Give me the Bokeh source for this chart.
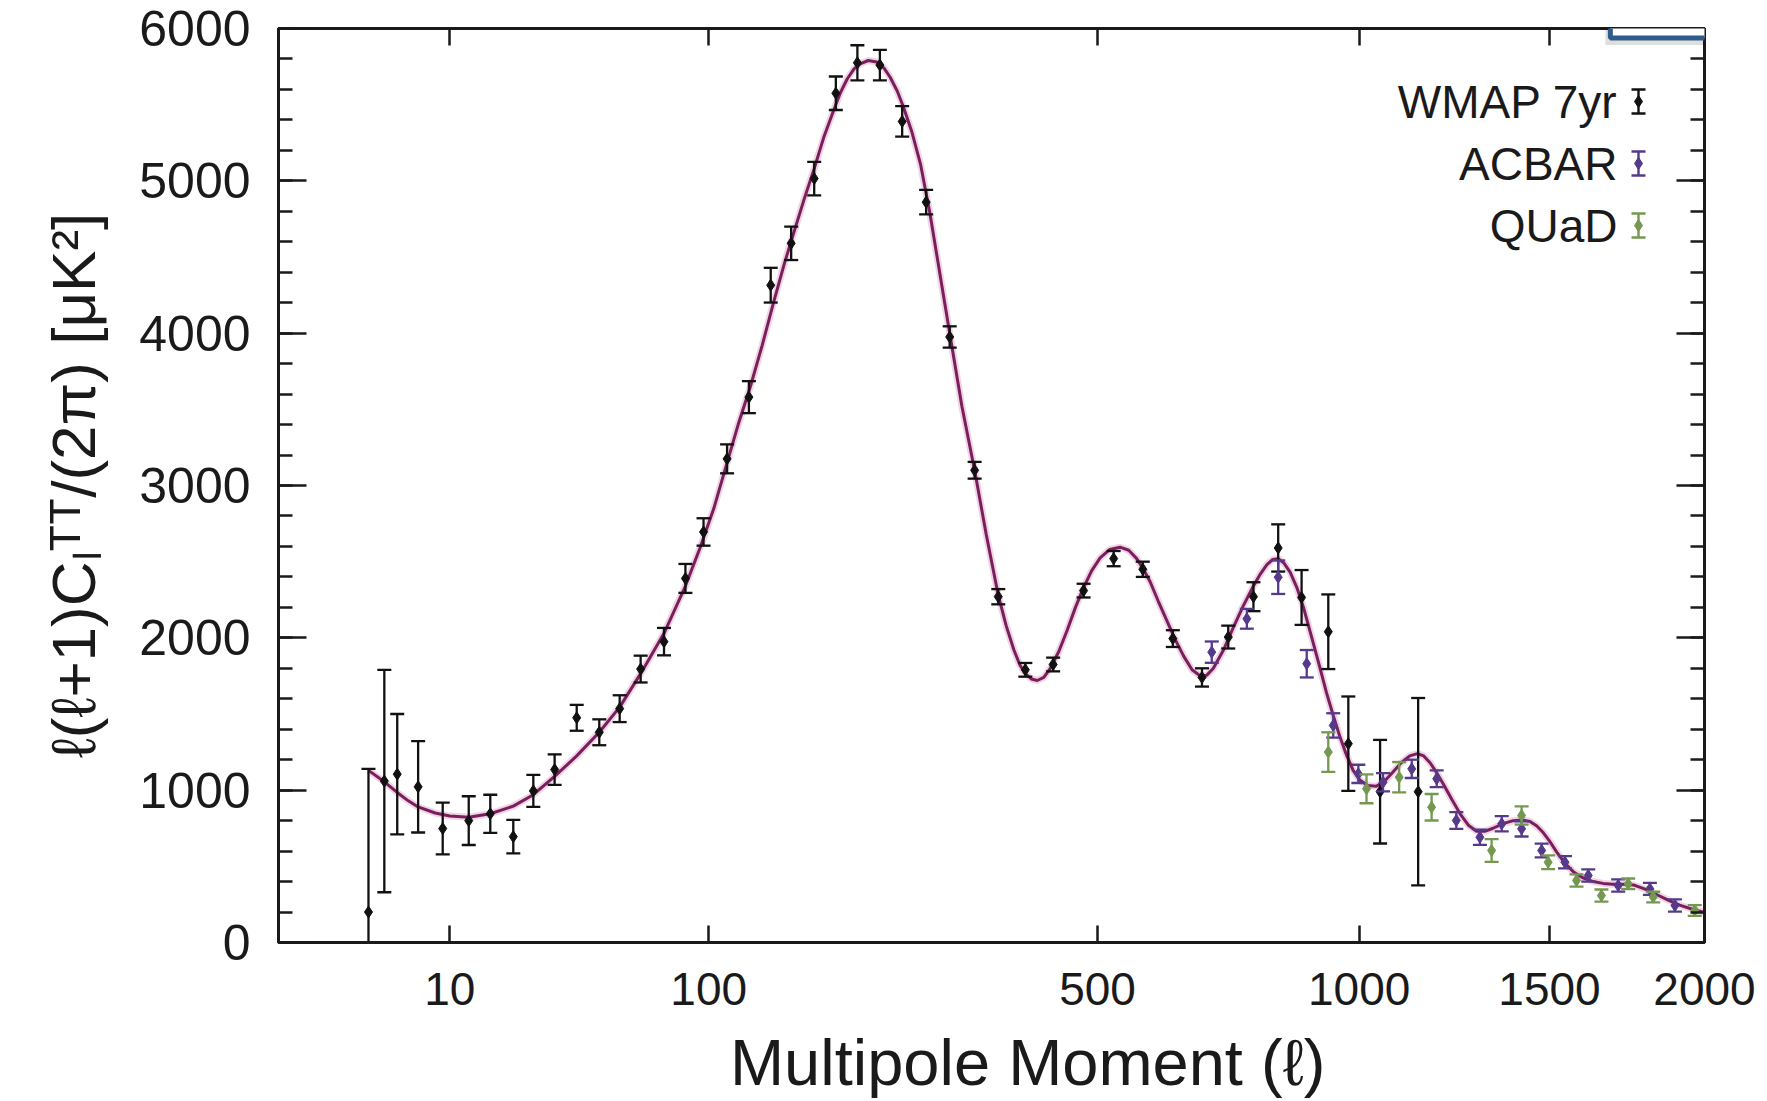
import numpy as np
from bokeh.plotting import figure
from bokeh.models import (Range1d, FixedTicker, SingleIntervalTicker, LinearAxis,
                          CustomJSTickFormatter, Label)
from bokeh.embed import file_html
from bokeh.resources import INLINE

# ---------------- data ----------------
wmap_l = [2, 3, 4, 6, 9, 13, 17, 22, 27, 33, 40, 48, 56, 65, 76, 87, 97, 111, 125, 140,
          155, 173, 191, 210, 231, 253, 278, 304, 333, 362, 397, 435, 479, 525, 572, 623,
          675, 724, 773, 823, 872, 930, 975, 1049, 1142]
wmap_d = [200, 1060, 1105, 1022, 748, 800, 845, 695, 995, 1135, 1475, 1380, 1535, 1795, 1975,
          2390, 2695, 3175, 3580, 4315, 4590, 5015, 5575, 5775, 5760, 5390, 4860, 3975, 3100,
          2270, 1790, 1825, 2310, 2520, 2450, 1995, 1740, 2005, 2270, 2590, 2265, 2040, 1305,
          990, 990]
wmap_err = [940, 730, 395, 300, 170, 160, 125, 110, 105, 100, 85, 85, 88, 88, 90, 95, 90, 95,
            105, 114, 110, 110, 110, 115, 100, 100, 80, 70, 55, 50, 45, 45, 45, 50, 50, 55, 60,
            75, 95, 155, 180, 245, 310, 340, 615]

acbar_l = [693, 760, 823, 883, 941, 998, 1056, 1126, 1189, 1240, 1303, 1363, 1419, 1477,
           1546, 1617, 1711, 1814, 1898]
acbar_d = [1906, 2125, 2398, 1830, 1425, 1107, 1052, 1140, 1075, 801, 691, 779, 746, 604,
           527, 440, 374, 352, 243]
acbar_err = [70, 65, 110, 90, 80, 60, 60, 60, 55, 55, 50, 50, 50, 45, 40, 40, 40, 40, 40]

quad_l = [930, 1017, 1095, 1176, 1335, 1419, 1496, 1581, 1658, 1743, 1825, 1966]
quad_d = [1250, 1009, 1085, 888, 604, 834, 527, 407, 308, 385, 298, 210]
quad_err = [130, 95, 100, 87, 75, 60, 45, 40, 40, 35, 35, 35]

model_l = [2, 3, 4, 5, 6, 8, 10, 13, 17, 22, 27, 33, 40, 48, 56, 65, 76, 87, 95, 103, 111,
           118, 126, 134, 142, 150, 157, 165, 173, 181, 189, 195, 201, 207, 213, 220, 228,
           235, 241, 248, 254, 263, 272, 282, 293, 304, 318, 333, 347, 362, 372, 382, 390,
           397, 405, 413, 422, 431, 443, 455, 467, 479, 491, 504, 519, 535, 549, 562, 573,
           584, 598, 613, 627, 642, 657, 672, 684, 696, 715, 734, 753, 773, 787, 800, 812,
           823, 835, 848, 862, 876, 894, 912, 926, 941, 956, 971, 986, 1002, 1020, 1040,
           1060, 1080, 1100, 1121, 1140, 1156, 1172, 1189, 1206, 1228, 1250, 1272, 1294,
           1316, 1339, 1367, 1395, 1420, 1443, 1463, 1482, 1502, 1521, 1546, 1571, 1600,
           1632, 1663, 1694, 1727, 1760, 1798, 1836, 1875, 1914, 1955, 2000]
model_d = [1130, 1055, 985, 930, 890, 850, 830, 822, 845, 895, 970, 1090, 1225, 1380, 1545,
           1765, 2030, 2340, 2590, 2850, 3150, 3400, 3650, 3920, 4200, 4460, 4660, 4880,
           5080, 5290, 5460, 5580, 5670, 5735, 5770, 5790, 5780, 5740, 5680, 5590, 5490,
           5320, 5110, 4790, 4390, 4000, 3520, 3100, 2680, 2280, 2080, 1920, 1820, 1765,
           1730, 1720, 1740, 1800, 1910, 2050, 2200, 2330, 2440, 2525, 2580, 2595, 2575,
           2520, 2450, 2370, 2240, 2110, 1990, 1880, 1790, 1750, 1755, 1800, 1920, 2070,
           2210, 2340, 2420, 2480, 2515, 2520, 2490, 2430, 2330, 2200, 2000, 1800, 1640,
           1490, 1350, 1230, 1130, 1065, 1030, 1025, 1060, 1120, 1180, 1225, 1240, 1225,
           1180, 1115, 1040, 940, 845, 770, 730, 730, 750, 780, 800, 805, 795, 765, 720,
           660, 595, 520, 465, 425, 400, 388, 383, 382, 378, 350, 315, 278, 245, 220, 198]

x_tick_values = [10, 100, 500, 1000, 1500, 2000]
series_names = ["WMAP 7yr", "ACBAR", "QUaD"]

# ---------------- styling / layout ----------------
FONT = "Liberation Sans"
INK = "#1a1a1a"
C_WMAP = "#111111"
C_ACBAR = "#553a8c"
C_QUAD = "#74984f"
C_MODEL = "#7a1f5c"

POW = 0.4          # the multipole axis is drawn in l**0.4


def tx(v):
    return np.asarray(v, dtype=float) ** POW


X0, X1 = 0.0, 2000 ** POW
Y0, Y1 = 0, 6000
FRAME_W, FRAME_H = 1426, 914

# the x title sits a little right of the frame centre in the original
x_title = "\u00a0\u00a0\u00a0\u00a0Multipole Moment (ℓ)"

p = figure(width=1767, height=1101, output_backend="svg", toolbar_location=None,
           x_range=Range1d(X0, X1), y_range=Range1d(Y0, Y1),
           min_border_left=278, min_border_right=63, min_border_top=28,
           min_border_bottom=159,
           x_axis_label=x_title,
           y_axis_label="ℓ(ℓ+1)Cₗᵀᵀ/(2π) [μK²]")
p.xgrid.visible = False
p.ygrid.visible = False
p.outline_line_color = INK
p.outline_line_width = 3
p.background_fill_color = "white"
p.border_fill_color = "white"

x_ticker = FixedTicker(ticks=list(tx(x_tick_values)), minor_ticks=[])
y_ticker = SingleIntervalTicker(interval=1000, num_minor_ticks=5)
x_fmt = CustomJSTickFormatter(args=dict(k=1.0 / POW),
                              code="return String(Math.round(Math.pow(tick, k)))")

right_axis = LinearAxis(ticker=y_ticker, formatter=CustomJSTickFormatter(code="return ''"))
top_axis = LinearAxis(ticker=x_ticker, formatter=CustomJSTickFormatter(code="return ''"))
p.add_layout(right_axis, "right")
p.add_layout(top_axis, "above")

bottom = p.below[0]
left = p.left[0]
bottom.formatter = x_fmt

for ax in (bottom, top_axis):
    ax.ticker = x_ticker
    ax.major_tick_in = 17
    ax.major_tick_out = 0
    ax.minor_tick_in = 0
    ax.minor_tick_out = 0
for ax in (left, right_axis):
    ax.ticker = y_ticker
    ax.major_tick_in = 28
    ax.major_tick_out = 0
    ax.minor_tick_in = 14
    ax.minor_tick_out = 0
for ax in (bottom, top_axis, left, right_axis):
    ax.axis_line_color = INK
    ax.axis_line_width = 3
    ax.major_tick_line_color = INK
    ax.major_tick_line_width = 2.5
    ax.minor_tick_line_color = INK
    ax.minor_tick_line_width = 2.5
    ax.major_label_text_font = FONT
    ax.major_label_text_font_size = "46px"
    ax.major_label_text_color = INK
    ax.axis_label_text_font = FONT
    ax.axis_label_text_font_style = "normal"
    ax.axis_label_text_color = INK

right_axis.major_label_standoff = 0
top_axis.major_label_standoff = 0

bottom.major_label_standoff = 30
bottom.axis_label_standoff = 18
bottom.axis_label_text_font_size = "65px"
left.major_label_text_font_size = "50px"
left.major_label_standoff = 28
left.axis_label_standoff = 28
left.axis_label_text_font_size = "62px"

# ---------------- model curve ----------------
p.line(tx(model_l), model_d, line_color="#e2b3cf", line_width=7, line_alpha=0.55)
p.line(tx(model_l), model_d, line_color=C_MODEL, line_width=3)


def errbars(l, d, e, color):
    u = tx(l)
    d = np.asarray(d, dtype=float)
    e = np.asarray(e, dtype=float)
    lo, hi = d - e, d + e
    p.segment(u, lo, u, hi, line_color=color, line_width=2.3)
    p.scatter(np.concatenate([u, u]), np.concatenate([lo, hi]), marker="dash", size=14,
              line_color=color, line_width=2.3)
    p.scatter(u, d, marker="diamond", size=12, fill_color=color, line_color=color)


errbars(wmap_l, wmap_d, wmap_err, C_WMAP)
errbars(acbar_l, acbar_d, acbar_err, C_ACBAR)
errbars(quad_l, quad_d, quad_err, C_QUAD)


# ---------------- legend (text left, error-bar symbol right) ----------------
def fx(px):
    return X0 + (X1 - X0) * px / FRAME_W


def fy(py):
    return Y1 - (Y1 - Y0) * py / FRAME_H


legend_rows = [73, 135, 197]
legend_cols = [C_WMAP, C_ACBAR, C_QUAD]
gx = fx(1360)
for name, row, col in zip(series_names, legend_rows, legend_cols):
    top_v, bot_v, mid_v = fy(row - 12), fy(row + 12), fy(row)
    p.segment([gx], [bot_v], [gx], [top_v], line_color=col, line_width=2.4)
    p.scatter([gx, gx], [bot_v, top_v], marker="dash", size=14, line_color=col,
              line_width=2.4)
    p.scatter([gx], [mid_v], marker="diamond", size=12, fill_color=col, line_color=col)
    p.add_layout(Label(x=fx(1339), y=mid_v, text=name, text_align="right",
                       text_baseline="middle", text_font=FONT, text_font_size="46px",
                       text_color=INK))

# ---------------- slide overlay box at the top right (partly off the page) ----------------
box_x, box_y = fx(1422), fy(-81)
p.add_layout(Label(x=box_x, y=box_y, x_offset=-5, y_offset=-7, text=" ",
                   text_font_size="1px", text_align="center", text_baseline="middle",
                   padding=90, background_fill_color="black", background_fill_alpha=0.13))
p.add_layout(Label(x=box_x, y=box_y, text=" ",
                   text_font_size="1px", text_align="center", text_baseline="middle",
                   padding=90, background_fill_color="white", background_fill_alpha=1.0,
                   border_line_color="#2e5d8c", border_line_width=5))

open("out.html", "w").write(file_html(p, INLINE))
